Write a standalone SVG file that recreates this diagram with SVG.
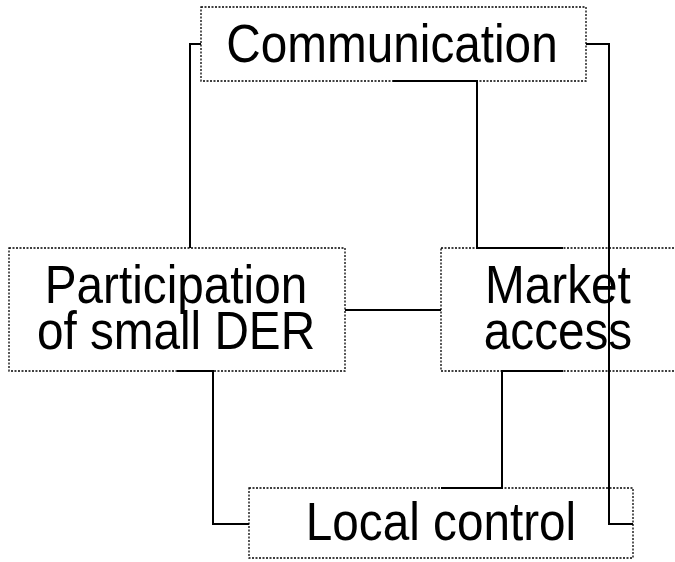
<svg xmlns="http://www.w3.org/2000/svg" width="675" height="562" viewBox="0 0 675 562">
<style>
.box{fill:none;stroke:#000;stroke-width:1.3;stroke-dasharray:2 1.5}
.lbl{font-family:"Liberation Sans",Arial,sans-serif;font-size:53px;fill:#000;text-anchor:middle}
.conn{fill:none;stroke:#000;stroke-width:2}
</style>
<rect width="675" height="562" fill="#fff"/>
<g id="connectors">
<path class="conn" d="M201,44 H190 V248"/>
<path class="conn" d="M393,81 H477 V248 H563"/>
<path class="conn" d="M586,44 H609 V524 H633"/>
<path class="conn" d="M345,310 H441"/>
<path class="conn" d="M177,371 H213 V524 H249"/>
<path class="conn" d="M563,371 H502 V488 H441"/>
</g>
<g id="communication">
<rect class="box" x="201" y="7" width="385" height="74"/>
<text class="lbl" transform="translate(392,62) scale(0.9,1)">Communication</text>
</g>
<g id="participation">
<rect class="box" x="9" y="248" width="336" height="123"/>
<text class="lbl" transform="translate(176,303) scale(0.9,1)">Participation</text>
<text class="lbl" transform="translate(176,349) scale(0.9,1)">of small DER</text>
</g>
<g id="market">
<rect class="box" x="441" y="248" width="244" height="123"/>
<text class="lbl" transform="translate(558,303) scale(0.9,1)">Market</text>
<text class="lbl" transform="translate(558,349) scale(0.9,1)">access</text>
</g>
<g id="local">
<rect class="box" x="249" y="488" width="384" height="70"/>
<text class="lbl" transform="translate(441,540) scale(0.9,1)">Local control</text>
</g>
</svg>
